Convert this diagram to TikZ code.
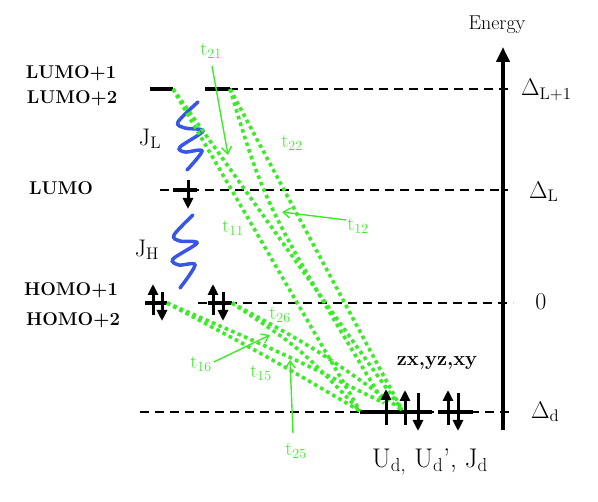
\RequirePackage{fix-cm}
\documentclass[tikz,border=0pt]{standalone}
\usetikzlibrary{arrows.meta}
\definecolor{tgreen}{RGB}{60,235,40}
\definecolor{jblue}{RGB}{55,85,230}
\begin{document}
\begin{tikzpicture}[x=1pt,y=-1pt,
 lev/.style={line width=3.5pt},
 dlev/.style={line width=1.8pt, dash pattern=on 9pt off 6pt},
 hop/.style={tgreen, line width=3.6pt, dash pattern=on 3.6pt off 3.4pt},
 spin/.style={line width=3pt, -{Triangle[width=10pt,length=11pt]}},
 spring/.style={jblue, line width=3.5pt, line cap=round},
 tlab/.style={text=tgreen, inner sep=1pt, font=\fontsize{20}{22}\selectfont},
 tarr/.style={tgreen, line width=1.4pt, -{Straight Barb[length=7pt,width=10pt]}},
 big/.style={inner sep=0pt, font=\fontsize{24}{27}\selectfont},
 orb/.style={inner sep=0pt, font=\bfseries\fontsize{18.5}{20}\selectfont}]
\useasboundingbox (0,0) rectangle (598,502);

% orbital labels
\node[orb] (l1) at (71,73) {LUMO+1};
\node[orb] (l2) at (72,98) {LUMO+2};
\node[orb] (l0) at (61,188) {LUMO};
\node[orb] (h1) at (71,290) {HOMO+1};
\node[orb] (h2) at (73,320) {HOMO+2};

% dashed levels
\draw[dlev] (229,89) -- (513,89);
\draw[dlev] (160,190) -- (508,190);
\draw[dlev] (198,303) -- (513,303);
\draw[dlev] (140,412) -- (513,412);

% solid level bars
\draw[lev] (150,89) -- (173,89);
\draw[lev] (205,89) -- (230,89);
\draw[lev] (173,190) -- (197,190);
\draw[lev] (145,303) -- (167,303);
\draw[lev] (208,303) -- (232,303);
\draw[lev] (360,412) -- (432,412);
\draw[lev] (438,412) -- (473,412);

% energy axis
\coordinate (ax0) at (503,430);
\coordinate (ax1) at (503,47);
\draw[line width=4pt, -{Triangle[width=13pt,length=15pt]}] (ax0) -- (ax1);
\node[inner sep=0pt, font=\fontsize{20}{22}\selectfont] (en) at (497,25) {Energy};

% right labels
\node[big, anchor=west] (dl1) at (521,90) {$\Delta_{\mathrm{L+1}}$};
\node[big, anchor=west] (dl) at (529,192) {$\Delta_{\mathrm{L}}$};
\node[big] (zero) at (541,302) {0};
\node[big, anchor=west] (dd) at (531,412) {$\Delta_{\mathrm{d}}$};
\node[inner sep=0pt, font=\fontsize{27}{30}\selectfont] (ud) at (430,462) {U$_{\mathrm{d,}}$ U$_{\mathrm{d}}$', J$_{\mathrm{d}}$};
\node[inner sep=0pt, font=\bfseries\fontsize{20}{22}\selectfont] (orbs) at (437,363) {zx,yz,xy};

% springs
\draw[spring] plot[smooth, tension=0.55] coordinates {(198,102) (178,122) (185,128) (203,131) (180,147) (185,152) (202,151) (187,170)};
\draw[spring] plot[smooth, tension=0.55] coordinates {(193,215) (174,235) (180,241) (197,243) (173,259) (179,265) (195,265) (180,288)};
\node[big] (jl) at (150,139) {J$_{\mathrm{L}}$};
\node[big] (jh) at (147,250) {J$_{\mathrm{H}}$};

% hopping paths
\coordinate (L1) at (173,89);
\coordinate (L2) at (230,89);
\coordinate (H1) at (167,303);
\coordinate (H2) at (232,303);
\coordinate (dA) at (360,411);
\coordinate (dB) at (384,403);
\coordinate (dC) at (402,410);
\draw[hop] (L1) -- (dA);
\draw[hop] (L1) -- (dC);
\draw[hop] (L2) .. controls (265,205) .. (dB);
\draw[hop] (L2) -- (dC);
\draw[hop] (H1) .. controls (270,358) .. (dA);
\draw[hop] (H1) .. controls (280,352) .. (dB);
\draw[hop] (H2) .. controls (300,348) .. (dA);
\draw[hop] (H2) .. controls (318,350) .. (dC);

% spins
\draw[spin] (188,180) -- (188,209);
\draw[spin] (153,315) -- (153,284);
\draw[spin] (162,292) -- (162,321);
\draw[spin] (213,315) -- (213,284);
\draw[spin] (223,292) -- (223,321);
\draw[spin] (386,425) -- (386,389);
\draw[spin] (405,425) -- (405,390);
\draw[spin] (418,393) -- (418,431);
\draw[spin] (448,425) -- (448,390);
\draw[spin] (458,393) -- (458,431);

% hopping labels
\node[tlab] (t21) at (211,51) {t$_{21}$};
\node[tlab] (t22) at (292,143) {t$_{22}$};
\node[tlab] (t12) at (358,226) {t$_{12}$};
\node[tlab] (t11) at (233,228) {t$_{11}$};
\node[tlab] (t26) at (280,315) {t$_{26}$};
\node[tlab] (t16) at (201,364) {t$_{16}$};
\node[tlab] (t15) at (261,373) {t$_{15}$};
\node[tlab] (t25) at (296,451) {t$_{25}$};
\coordinate (a21) at (228,155);
\coordinate (a12) at (282,212);
\coordinate (a16) at (270,335);
\coordinate (a25) at (290,360);
\draw[tarr] ([shift={(1,6)}]t21.south) -- (a21);
\draw[tarr] ([shift={(0,-6)}]t12.west) -- (a12);
\draw[tarr] ([shift={(1,-2)}]t16.east) -- (a16);
\draw[tarr] ([shift={(-3,-9)}]t25.north) -- (a25);
\end{tikzpicture}
\end{document}
